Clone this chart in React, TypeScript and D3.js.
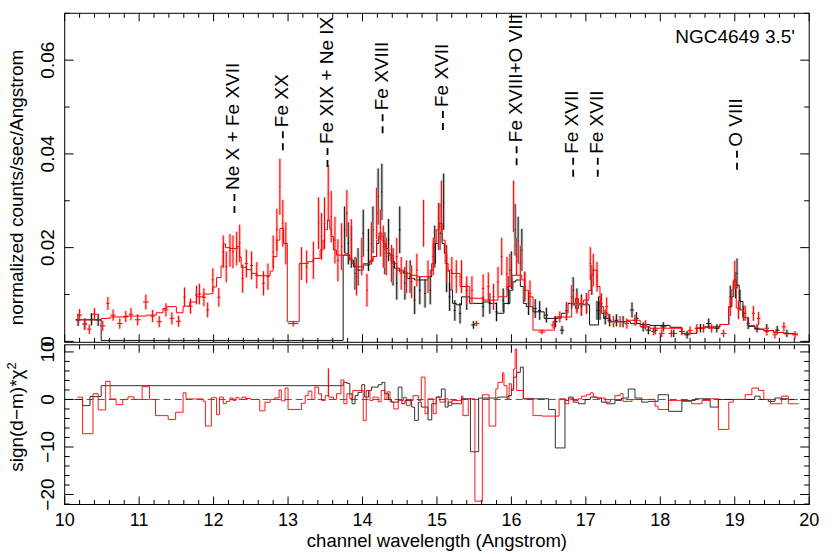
import React from 'react';
import * as d3 from 'd3';

// spectrum of NGC4649 (RGS1 = black, RGS2 = red)
// model steps: [bin start (Angstrom), normalized counts/sec/Angstrom]
const blackModel: [number, number][] = [
  [10.15, 0.0046], [10.49, 0.0002], [13.74, 0.0184], [13.83, 0.0173], [13.88, 0.0159],
  [13.92, 0.0152], [14.01, 0.0163], [14.10, 0.0170], [14.14, 0.0181], [14.19, 0.0209],
  [14.22, 0.0224], [14.25, 0.0216], [14.29, 0.0195], [14.32, 0.0188], [14.38, 0.0170],
  [14.43, 0.0156], [14.50, 0.0148], [14.60, 0.0134], [14.70, 0.0131], [14.88, 0.0138],
  [14.93, 0.0166], [14.98, 0.0209], [15.02, 0.0231], [15.07, 0.0209], [15.10, 0.0188],
  [15.13, 0.0150], [15.17, 0.0110], [15.21, 0.0081], [15.26, 0.0078], [15.33, 0.0095],
  [15.40, 0.0095], [15.44, 0.0081], [15.62, 0.0084], [15.71, 0.0081], [15.80, 0.0060],
  [15.90, 0.0081], [15.98, 0.0109], [16.02, 0.0127], [16.06, 0.0131], [16.12, 0.0117],
  [16.16, 0.0081], [16.20, 0.0074], [16.29, 0.0063], [16.44, 0.0049], [16.67, 0.0060],
  [16.76, 0.0081], [16.81, 0.0078], [16.86, 0.0070], [16.90, 0.0078], [16.95, 0.0078],
  [17.05, 0.0035], [17.17, 0.0095], [17.20, 0.0060], [17.24, 0.0049], [17.32, 0.0042],
  [17.60, 0.0038], [17.73, 0.0036], [17.86, 0.0034], [18.13, 0.0030], [18.29, 0.0017],
  [18.49, 0.0028], [18.58, 0.0031], [18.80, 0.0036], [18.92, 0.0074], [18.96, 0.0095],
  [18.98, 0.0127], [19.02, 0.0120], [19.06, 0.0085], [19.11, 0.0051], [19.18, 0.0032],
  [19.27, 0.0026], [19.39, 0.0023], [19.52, 0.0019], [19.66, 0.0017], [19.80, 0.0017],
];

const redModel: [number, number][] = [
  [10.15, 0.0046], [10.49, 0.0049], [10.61, 0.0052], [10.83, 0.0054], [11.10, 0.0056],
  [11.23, 0.0061], [11.32, 0.0070], [11.37, 0.0074], [11.50, 0.0061], [11.59, 0.0075],
  [11.68, 0.0084], [11.77, 0.0095], [11.86, 0.0101], [11.97, 0.0102], [11.99, 0.0116],
  [12.04, 0.0136], [12.10, 0.0161], [12.13, 0.0208], [12.16, 0.0200], [12.22, 0.0198],
  [12.31, 0.0202], [12.35, 0.0180], [12.37, 0.0158], [12.44, 0.0153], [12.51, 0.0145],
  [12.58, 0.0140], [12.76, 0.0150], [12.80, 0.0181], [12.85, 0.0216], [12.89, 0.0241],
  [12.94, 0.0209], [12.99, 0.0042], [13.15, 0.0166], [13.27, 0.0170], [13.34, 0.0177],
  [13.43, 0.0195], [13.47, 0.0216], [13.49, 0.0238], [13.53, 0.0259], [13.56, 0.0240],
  [13.58, 0.0224], [13.61, 0.0195], [13.65, 0.0184], [13.77, 0.0188], [13.81, 0.0177],
  [13.86, 0.0166], [13.90, 0.0159], [14.01, 0.0166], [14.10, 0.0173], [14.14, 0.0181],
  [14.19, 0.0216], [14.22, 0.0231], [14.26, 0.0224], [14.28, 0.0209], [14.31, 0.0198],
  [14.35, 0.0184], [14.41, 0.0166], [14.46, 0.0152], [14.55, 0.0145], [14.64, 0.0141],
  [14.73, 0.0138], [14.91, 0.0152], [14.95, 0.0209], [14.99, 0.0238], [15.03, 0.0252],
  [15.07, 0.0216], [15.11, 0.0166], [15.15, 0.0152], [15.20, 0.0145], [15.31, 0.0117],
  [15.44, 0.0092], [15.62, 0.0088], [15.82, 0.0095], [15.94, 0.0117], [16.01, 0.0141],
  [16.14, 0.0131], [16.18, 0.0109], [16.23, 0.0095], [16.29, 0.0024], [16.58, 0.0052],
  [16.81, 0.0081], [16.86, 0.0092], [16.90, 0.0081], [16.97, 0.0088], [17.04, 0.0109],
  [17.07, 0.0141], [17.10, 0.0152], [17.15, 0.0117], [17.19, 0.0074], [17.24, 0.0060],
  [17.30, 0.0042], [17.55, 0.0045], [17.73, 0.0031], [17.86, 0.0028], [18.29, 0.0017],
  [18.49, 0.0028], [18.58, 0.0030], [18.80, 0.0036], [18.92, 0.0074], [18.96, 0.0110],
  [18.98, 0.0131], [19.02, 0.0071], [19.07, 0.0067], [19.11, 0.0051], [19.18, 0.0034],
  [19.27, 0.0026], [19.39, 0.0023], [19.52, 0.0019], [19.66, 0.0016], [19.85, 0.0016],
];

// data points: [centre, half bin width, value, 1-sigma error]
const blackData: [number, number, number, number][] = [
  [10.18, 0.035, 0.0046, 0.0013], [10.27, 0.03, 0.0037, 0.0012], [10.36, 0.035, 0.0047, 0.0013],
  [10.45, 0.035, 0.0046, 0.0013], [13.76, 0.01, 0.0238, 0.005], [13.81, 0.01, 0.0209, 0.0045],
  [13.85, 0.01, 0.0202, 0.0045], [13.90, 0.01, 0.0145, 0.0035], [13.94, 0.01, 0.0159, 0.004],
  [14.01, 0.01, 0.0231, 0.005], [14.08, 0.01, 0.0195, 0.0045], [14.14, 0.01, 0.0238, 0.005],
  [14.21, 0.008, 0.0309, 0.006], [14.26, 0.008, 0.0319, 0.006], [14.30, 0.01, 0.0188, 0.0045],
  [14.35, 0.01, 0.0216, 0.0045], [14.41, 0.01, 0.0159, 0.004], [14.46, 0.01, 0.0124, 0.0035],
  [14.50, 0.01, 0.0238, 0.005], [14.57, 0.01, 0.0124, 0.0035], [14.64, 0.012, 0.0138, 0.0035],
  [14.70, 0.012, 0.0088, 0.003], [14.77, 0.012, 0.0109, 0.003], [14.84, 0.012, 0.0102, 0.003],
  [14.91, 0.012, 0.0109, 0.003], [14.97, 0.01, 0.0202, 0.0045], [15.04, 0.008, 0.0245, 0.005],
  [15.09, 0.008, 0.0298, 0.006], [15.13, 0.01, 0.0145, 0.004], [15.17, 0.012, 0.0095, 0.003],
  [15.24, 0.015, 0.0066, 0.0022], [15.31, 0.015, 0.006, 0.0022], [15.40, 0.015, 0.0095, 0.0028],
  [15.49, 0.03, 0.0035, 0.0008], [15.62, 0.015, 0.0074, 0.0022], [15.71, 0.015, 0.0081, 0.0022],
  [15.80, 0.015, 0.0063, 0.002], [15.89, 0.015, 0.0088, 0.0025], [15.96, 0.012, 0.0109, 0.003],
  [16.00, 0.01, 0.0152, 0.004], [16.05, 0.008, 0.0238, 0.0055], [16.09, 0.008, 0.0216, 0.005],
  [16.14, 0.01, 0.0195, 0.0045], [16.18, 0.01, 0.0117, 0.0032], [16.23, 0.012, 0.0081, 0.0025],
  [16.32, 0.02, 0.007, 0.002], [16.38, 0.02, 0.0066, 0.002], [16.47, 0.025, 0.0056, 0.0016],
  [16.59, 0.03, 0.0042, 0.0012], [16.68, 0.03, 0.0024, 0.0009], [16.74, 0.015, 0.0063, 0.0018],
  [16.83, 0.012, 0.0109, 0.0028], [16.88, 0.012, 0.0088, 0.0025], [16.94, 0.015, 0.0078, 0.0022],
  [17.01, 0.015, 0.0081, 0.0022], [17.08, 0.01, 0.0131, 0.0032], [17.15, 0.01, 0.0066, 0.002],
  [17.19, 0.012, 0.0066, 0.002], [17.26, 0.02, 0.0052, 0.0016], [17.32, 0.025, 0.0045, 0.0013],
  [17.41, 0.03, 0.0045, 0.0013], [17.50, 0.03, 0.0042, 0.0012], [17.62, 0.025, 0.0067, 0.0016],
  [17.68, 0.03, 0.0049, 0.0013], [17.77, 0.03, 0.0031, 0.001], [17.84, 0.035, 0.0024, 0.0009],
  [17.93, 0.035, 0.0024, 0.0009], [18.04, 0.04, 0.0031, 0.001], [18.18, 0.04, 0.0017, 0.0008],
  [18.36, 0.04, 0.0014, 0.0008], [18.54, 0.035, 0.0028, 0.0009], [18.65, 0.035, 0.0038, 0.0011],
  [18.76, 0.035, 0.0028, 0.0009], [18.94, 0.012, 0.0095, 0.0024], [19.01, 0.008, 0.012, 0.0028],
  [19.03, 0.008, 0.0145, 0.0032], [19.07, 0.01, 0.0088, 0.0022], [19.12, 0.015, 0.006, 0.0016],
  [19.18, 0.02, 0.0038, 0.0012], [19.30, 0.03, 0.0028, 0.0009], [19.43, 0.03, 0.0028, 0.0009],
  [19.57, 0.03, 0.0024, 0.0009], [19.70, 0.035, 0.0017, 0.0008],
];

const redData: [number, number, number, number][] = [
  [10.20, 0.035, 0.0056, 0.0013], [10.27, 0.03, 0.0037, 0.0012], [10.33, 0.03, 0.0026, 0.001],
  [10.40, 0.035, 0.0058, 0.0013], [10.51, 0.04, 0.0033, 0.0011], [10.58, 0.02, 0.0081, 0.0014],
  [10.65, 0.035, 0.0056, 0.0012], [10.74, 0.035, 0.0038, 0.0011], [10.82, 0.035, 0.0053, 0.0012],
  [10.89, 0.03, 0.0058, 0.0013], [10.98, 0.04, 0.0046, 0.0012], [11.09, 0.04, 0.0084, 0.0016],
  [11.18, 0.035, 0.0054, 0.0013], [11.27, 0.035, 0.0042, 0.0012], [11.36, 0.035, 0.0067, 0.0014],
  [11.44, 0.03, 0.0049, 0.0013], [11.53, 0.035, 0.0043, 0.0012], [11.61, 0.015, 0.0095, 0.002],
  [11.69, 0.03, 0.0075, 0.0016], [11.77, 0.02, 0.0099, 0.002], [11.81, 0.02, 0.0101, 0.0022],
  [11.87, 0.025, 0.0094, 0.0019], [11.92, 0.02, 0.0067, 0.0016], [11.99, 0.015, 0.0131, 0.0025],
  [12.07, 0.02, 0.0094, 0.002], [12.13, 0.012, 0.0191, 0.0035], [12.17, 0.012, 0.0159, 0.0033],
  [12.22, 0.012, 0.0194, 0.0035], [12.26, 0.012, 0.0191, 0.0035], [12.31, 0.012, 0.0198, 0.0036],
  [12.35, 0.012, 0.0209, 0.004], [12.39, 0.015, 0.0134, 0.003], [12.44, 0.02, 0.0166, 0.003],
  [12.51, 0.02, 0.0162, 0.003], [12.58, 0.025, 0.0141, 0.0028], [12.67, 0.02, 0.0124, 0.0026],
  [12.73, 0.02, 0.0138, 0.0028], [12.80, 0.012, 0.0191, 0.0035], [12.85, 0.01, 0.0238, 0.0045],
  [12.89, 0.008, 0.033, 0.006], [12.93, 0.01, 0.0252, 0.005], [12.97, 0.012, 0.0209, 0.0045],
  [13.07, 0.07, 0.0038, 0.0006], [13.18, 0.015, 0.0166, 0.0035], [13.25, 0.015, 0.0159, 0.0035],
  [13.34, 0.012, 0.0173, 0.004], [13.41, 0.01, 0.0252, 0.0055], [13.45, 0.01, 0.0224, 0.005],
  [13.49, 0.01, 0.0252, 0.0055], [13.54, 0.008, 0.0316, 0.006], [13.58, 0.01, 0.0266, 0.0055],
  [13.63, 0.01, 0.0216, 0.005], [13.67, 0.01, 0.0173, 0.0045], [13.72, 0.01, 0.0202, 0.005],
  [13.79, 0.01, 0.0273, 0.005], [13.85, 0.01, 0.0216, 0.0045], [13.92, 0.012, 0.0138, 0.004],
  [13.99, 0.012, 0.0181, 0.004], [14.06, 0.012, 0.0109, 0.0035], [14.12, 0.01, 0.0209, 0.0045],
  [14.19, 0.008, 0.0273, 0.0055], [14.24, 0.008, 0.0231, 0.005], [14.28, 0.01, 0.0202, 0.0045],
  [14.32, 0.01, 0.0181, 0.004], [14.39, 0.012, 0.0166, 0.004], [14.46, 0.012, 0.0181, 0.004],
  [14.52, 0.012, 0.0145, 0.0035], [14.59, 0.012, 0.0138, 0.0035], [14.66, 0.012, 0.0127, 0.0035],
  [14.73, 0.012, 0.0152, 0.0035], [14.82, 0.01, 0.0252, 0.005], [14.88, 0.012, 0.0138, 0.0035],
  [14.95, 0.01, 0.0181, 0.004], [15.02, 0.008, 0.0245, 0.005], [15.06, 0.008, 0.0288, 0.0055],
  [15.13, 0.01, 0.0166, 0.004], [15.20, 0.012, 0.0145, 0.0035], [15.26, 0.012, 0.0138, 0.0035],
  [15.33, 0.012, 0.0138, 0.0035], [15.40, 0.015, 0.0109, 0.003], [15.47, 0.015, 0.0109, 0.003],
  [15.53, 0.04, 0.0038, 0.0006], [15.62, 0.015, 0.0113, 0.003], [15.69, 0.015, 0.0117, 0.003],
  [15.76, 0.015, 0.0095, 0.0028], [15.82, 0.012, 0.0127, 0.0032], [15.87, 0.012, 0.0181, 0.004],
  [15.94, 0.012, 0.0145, 0.0035], [15.98, 0.01, 0.0152, 0.0035], [16.03, 0.008, 0.0288, 0.0055],
  [16.07, 0.01, 0.0181, 0.004], [16.12, 0.01, 0.0166, 0.0038], [16.18, 0.012, 0.0117, 0.003],
  [16.25, 0.015, 0.0102, 0.0028], [16.41, 0.05, 0.002, 0.0005], [16.56, 0.03, 0.0035, 0.0008],
  [16.65, 0.03, 0.0052, 0.0012], [16.74, 0.02, 0.0066, 0.0018], [16.81, 0.015, 0.0095, 0.0025],
  [16.88, 0.015, 0.0081, 0.0022], [16.94, 0.015, 0.0074, 0.002], [17.01, 0.015, 0.0081, 0.0022],
  [17.06, 0.01, 0.0166, 0.0035], [17.10, 0.01, 0.0152, 0.0035], [17.15, 0.01, 0.0138, 0.0032],
  [17.21, 0.015, 0.0081, 0.0022], [17.28, 0.02, 0.0074, 0.002], [17.37, 0.03, 0.0042, 0.0012],
  [17.46, 0.03, 0.0042, 0.0012], [17.55, 0.03, 0.0038, 0.0011], [17.66, 0.03, 0.0045, 0.0012],
  [17.80, 0.035, 0.0035, 0.001], [17.91, 0.035, 0.0021, 0.0008], [18.02, 0.04, 0.0017, 0.0008],
  [18.15, 0.04, 0.0017, 0.0008], [18.29, 0.04, 0.0021, 0.0008], [18.40, 0.035, 0.0023, 0.0009],
  [18.49, 0.03, 0.0028, 0.0009], [18.58, 0.03, 0.0028, 0.0009], [18.69, 0.035, 0.0028, 0.0009],
  [18.85, 0.04, 0.0017, 0.0008], [18.94, 0.012, 0.0074, 0.002], [19.00, 0.008, 0.0142, 0.003],
  [19.05, 0.012, 0.0067, 0.002], [19.14, 0.02, 0.006, 0.0016], [19.25, 0.02, 0.006, 0.0016],
  [19.32, 0.025, 0.0049, 0.0014], [19.43, 0.03, 0.0021, 0.0009], [19.54, 0.03, 0.0014, 0.0008],
  [19.66, 0.03, 0.0031, 0.001], [19.81, 0.04, 0.0014, 0.0008],
];

// residual steps: [bin start, sign(d-m)*chi^2]
const blackResid: [number, number][] = [
  [10.13, 0], [10.24, -1.3], [10.34, 0.6], [10.49, 2.9], [13.74, 3.6], [13.79, 3.4],
  [13.83, 1.2], [13.86, -0.9], [13.90, 0.8], [13.94, 1.5], [13.99, 3.1], [14.03, 0.5],
  [14.08, 1.9], [14.12, 2.6], [14.17, 2.6], [14.21, 3.1], [14.26, 3.6], [14.30, 1.2],
  [14.35, 0], [14.39, -0.56], [14.48, 2.6], [14.53, -0.9], [14.57, -0.2], [14.66, -1.6],
  [14.70, -4.4], [14.75, -0.56], [14.79, -1.6], [14.88, -4.3], [14.93, -0.9], [14.99, 0.5],
  [15.06, 2.2], [15.11, -1.6], [15.15, -0.56], [15.20, -0.9], [15.33, 0.14], [15.45, -11.0],
  [15.56, 0.3], [15.82, 0.5], [15.96, 0.8], [16.00, 2.2], [16.03, 4.7], [16.07, 5.7],
  [16.12, 6.8], [16.16, 0.14], [16.50, -2.1], [16.59, -10.2], [16.72, -0.2], [16.77, 0.5],
  [16.83, -0.56], [16.90, -0.9], [16.99, 0], [17.06, 0.5], [17.15, 0.3], [17.21, -0.56],
  [17.28, -0.9], [17.39, -0.2], [17.48, 0.3], [17.57, 2.2], [17.66, 0.3], [17.75, -0.56],
  [17.84, -0.4], [17.97, 1.0], [18.11, -2.5], [18.29, -0.2], [18.47, 0.14], [18.67, -1.6],
  [18.78, 0], [19.18, 0], [19.27, 0.7], [19.34, 0], [19.45, -0.4], [19.54, 0.3],
  [19.63, 0.14], [19.72, 0], [19.80, 0],
];

const redResid: [number, number][] = [
  [10.17, 0.5], [10.24, -7.2], [10.38, 1.2], [10.45, -2.2], [10.55, 3.8], [10.61, 0.1],
  [10.69, -1.1], [10.78, 0], [10.85, 0.55], [10.93, 0], [11.04, 2.7], [11.14, 0],
  [11.22, -3.4], [11.39, -4.2], [11.49, -2.7], [11.59, 1.4], [11.63, 0.1], [11.86, -0.4],
  [11.89, -5.6], [11.97, 0.35], [12.04, -3.2], [12.08, 0.5], [12.13, -0.9], [12.17, -0.4],
  [12.22, 0.3], [12.26, -0.2], [12.30, 0.4], [12.34, 0], [12.38, 0.5], [12.43, 0.2],
  [12.50, 0], [12.62, -2.4], [12.69, -0.6], [12.76, 0], [12.82, 0.35], [12.88, 2.0],
  [12.91, -0.3], [12.96, 2.4], [13.00, -2.1], [13.18, -0.8], [13.23, 0.8], [13.27, 1.75],
  [13.32, 0], [13.36, 2.6], [13.41, 1.2], [13.45, -0.2], [13.50, 0.8], [13.54, 6.5],
  [13.545, 0.5], [13.61, 0], [13.65, 1.2], [13.71, 4.1], [13.75, -0.9], [13.79, 1.2],
  [13.83, 0.2], [13.87, 1.9], [14.01, -4.4], [14.05, 1.9], [14.10, -0.2], [14.14, 0.5],
  [14.21, -0.5], [14.25, 1.9], [14.30, 0], [14.33, 1.6], [14.37, -0.5], [14.42, -2.0],
  [14.48, -0.2], [14.55, 0.4], [14.59, -1.3], [14.64, -0.2], [14.68, 0.8], [14.75, -0.2],
  [14.79, 4.7], [14.84, -3.0], [14.88, 0.14], [14.95, -3.0], [14.99, 0.5], [15.04, -0.56],
  [15.11, 0.14], [15.15, -1.26], [15.20, -0.2], [15.33, 0.7], [15.35, -3.4], [15.42, 0.14],
  [15.51, -21.4], [15.61, 1.0], [15.70, -5.6], [15.79, 2.2], [15.82, 3.6], [15.88, 5.6],
  [15.90, 2.9], [15.94, 0.14], [15.97, 3.3], [16.00, 1.9], [16.03, 6.4], [16.05, 10.6],
  [16.07, 1.9], [16.16, 0.14], [16.29, -3.4], [16.41, -3.5], [16.64, 0.14], [16.72, -0.9],
  [16.77, 0.14], [16.83, -0.2], [16.90, 0.14], [16.94, 0.7], [17.01, 1.0], [17.06, 1.4],
  [17.10, 0.5], [17.15, 0.3], [17.26, -0.56], [17.33, 0], [17.39, 0.8], [17.46, 1.2],
  [17.50, -0.4], [17.62, 0], [17.93, -1.4], [17.97, -2.1], [18.11, -0.2], [18.29, -0.4],
  [18.42, -0.9], [18.56, -0.2], [18.67, 0.14], [18.78, -6.3], [18.92, -0.56], [18.98, 0],
  [19.14, 1.0], [19.23, 2.4], [19.32, 1.9], [19.39, 0], [19.48, -0.9], [19.63, 0.7],
  [19.72, -0.9], [19.86, -0.9],
];

// line identifications: [wavelength, height of marker foot, label]
const lineLabels: [number, number, string][] = [
  [12.28, 0.0274, 'Ne X + Fe XVII'],
  [12.93, 0.0408, 'Fe XX'],
  [13.53, 0.0372, 'Fe XIX + Ne IX'],
  [14.27, 0.0444, 'Fe XVIII'],
  [15.08, 0.0451, 'Fe XVII'],
  [16.07, 0.0376, 'Fe XVIII+O VIII'],
  [16.83, 0.0351, 'Fe XVII'],
  [17.16, 0.0351, 'Fe XVII'],
  [19.03, 0.0366, 'O VIII'],
];

const xTickLabels = [10, 11, 12, 13, 14, 15, 16, 17, 18, 19, 20];
const yTopTickLabels: [number, string][] = [[0, '0'], [0.02, '0.02'], [0.04, '0.04'], [0.06, '0.06']];
const yResTickLabels: [number, string][] = [[10, '10'], [0, '0'], [-10, '\u221210'], [-20, '\u221220']];

const FONT = "'Liberation Sans', Arial, Helvetica, sans-serif";
const RED = '#ff0000';
const BLK = '#111111';

export default function App() {
  const W = 835;
  const H = 554;
  const xs = d3.scaleLinear().domain([10, 20]).range([64.7, 809.2]);
  const yTop = d3.scaleLinear().domain([-0.0002, 0.07]).range([342.3, 13.3]);
  const yRes = d3.scaleLinear().domain([-22.1, 11.5]).range([504.5, 344.8]);
  const [xl, xr] = xs.range();
  const [tb, tt] = yTop.range();
  const [bb, bt] = yRes.range();

  const stepLine = (pts: [number, number][], ys: d3.ScaleLinear<number, number>) =>
    d3.line<[number, number]>()
      .x((d) => xs(d[0]))
      .y((d) => ys(d[1]))
      .curve(d3.curveStepAfter)(pts) || '';

  const xMinor = d3.range(0, 51).map((i) => 10 + i * 0.2);
  const yTopMinor = d3.range(0, 8).map((i) => i * 0.01);
  const yResMinor = d3.range(-22, 11, 2);

  const crosses = (data: [number, number, number, number][], col: string, light: string) => (
    <g>
      {data.map(([c, hw, v, e], i) => (
        <g key={i}>
          <line x1={xs(c)} x2={xs(c)} y1={yTop(v - e)} y2={yTop(v + e)} stroke={light} strokeWidth={3} opacity={0.5} />
          <line x1={xs(c)} x2={xs(c)} y1={yTop(v - e)} y2={yTop(v + e)} stroke={col} strokeWidth={1} />
          <line x1={xs(c - hw)} x2={xs(c + hw)} y1={yTop(v)} y2={yTop(v)} stroke={col} strokeWidth={1} />
        </g>
      ))}
    </g>
  );

  const xTicksAt = (y: number, dir: number, key: string) =>
    xMinor.map((t, i) => {
      const major = Math.abs(t - Math.round(t)) < 1e-6;
      const len = major ? 8 : 4.5;
      return <line key={key + i} x1={xs(t)} x2={xs(t)} y1={y} y2={y + dir * len} stroke="#000" strokeWidth={1} />;
    });

  return (
    <svg width={W} height={H} viewBox={`0 0 ${W} ${H}`} style={{ display: 'block', position: 'absolute', left: 0, top: 0, background: '#fff' }} fontFamily={FONT}>
      <defs>
        <clipPath id="clipTop">
          <rect x={xl} y={tt} width={xr - xl} height={tb - tt} />
        </clipPath>
      </defs>
      <rect x={0} y={0} width={W} height={H} fill="#fff" />

      {/* top panel: data and model */}
      <g clipPath="url(#clipTop)">
        {crosses(blackData, BLK, '#9a9a9a')}
        <path d={stepLine(blackModel, yTop)} fill="none" stroke={BLK} strokeWidth={1} />
        {crosses(redData, RED, '#ff9a9a')}
        <path d={stepLine(redModel, yTop)} fill="none" stroke={RED} strokeWidth={1} />
      </g>

      {/* line identifications */}
      <g clipPath="url(#clipTop)">
        {lineLabels.map(([lam, h, txt], i) => {
          const x = xs(lam);
          const yb = yTop(h);
          return (
            <g key={i}>
              <line x1={x} x2={x} y1={yb} y2={yb - 19} stroke="#000" strokeWidth={1.8} strokeDasharray="7 5" />
              <text transform={`translate(${x + 5},${yb - 23}) rotate(-90)`} fontSize={19} fill="#000">{txt}</text>
            </g>
          );
        })}
      </g>
      <text x={795} y={43} fontSize={19} textAnchor="end" fill="#000">NGC4649 3.5'</text>

      {/* residual panel */}
      <line x1={xl} x2={xr} y1={yRes(0)} y2={yRes(0)} stroke="#555" strokeWidth={1} strokeDasharray="7 4" />
      <path d={stepLine(blackResid, yRes)} fill="none" stroke={BLK} strokeWidth={1} opacity={0.85} />
      <path d={stepLine(redResid, yRes)} fill="none" stroke={RED} strokeWidth={1} opacity={0.9} />

      {/* frames */}
      <rect x={xl} y={tt} width={xr - xl} height={tb - tt} fill="none" stroke="#000" strokeWidth={1} />
      <rect x={xl} y={bt} width={xr - xl} height={bb - bt} fill="none" stroke="#000" strokeWidth={1} />

      {/* x ticks */}
      {xTicksAt(tt, 1, 'a')}
      {xTicksAt(tb, -1, 'b')}
      {xTicksAt(bt, 1, 'c')}
      {xTicksAt(bb, -1, 'd')}

      {/* y ticks */}
      {yTopMinor.map((t, i) => {
        const major = Math.round(t * 100) % 2 === 0;
        const len = major ? 9 : 5;
        return (
          <g key={'yt' + i}>
            <line x1={xl} x2={xl + len} y1={yTop(t)} y2={yTop(t)} stroke="#000" />
            <line x1={xr} x2={xr - len} y1={yTop(t)} y2={yTop(t)} stroke="#000" />
          </g>
        );
      })}
      {yResMinor.map((t, i) => {
        const major = t % 10 === 0;
        const len = major ? 9 : 5;
        return (
          <g key={'yr' + i}>
            <line x1={xl} x2={xl + len} y1={yRes(t)} y2={yRes(t)} stroke="#000" />
            <line x1={xr} x2={xr - len} y1={yRes(t)} y2={yRes(t)} stroke="#000" />
          </g>
        );
      })}

      {/* tick labels */}
      {xTickLabels.map((t) => (
        <text key={'xl' + t} x={xs(t)} y={526} fontSize={18} textAnchor="middle" fill="#000">{t}</text>
      ))}
      {yTopTickLabels.map(([v, s]) => (
        <text key={'ytl' + s} transform={`translate(${54},${yTop(v)}) rotate(-90)`} fontSize={19} textAnchor="middle" fill="#000">{s}</text>
      ))}
      {yResTickLabels.map(([v, s]) => (
        <text key={'yrl' + s} transform={`translate(${54},${yRes(v)}) rotate(-90)`} fontSize={19} textAnchor="middle" fill="#000">{s}</text>
      ))}

      {/* axis titles */}
      <text x={(xl + xr) / 2} y={547} fontSize={18.5} textAnchor="middle" fill="#000">channel wavelength (Angstrom)</text>
      <text transform="translate(23,187.5) rotate(-90)" fontSize={19} textAnchor="middle" fill="#000">normalized counts/sec/Angstrom</text>
      <text transform="translate(23,417) rotate(-90)" fontSize={19} textAnchor="middle" fill="#000">
        sign(d{'\u2212'}m)*{'\u03c7'}<tspan dy={-7} fontSize={13}>2</tspan>
      </text>
    </svg>
  );
}
